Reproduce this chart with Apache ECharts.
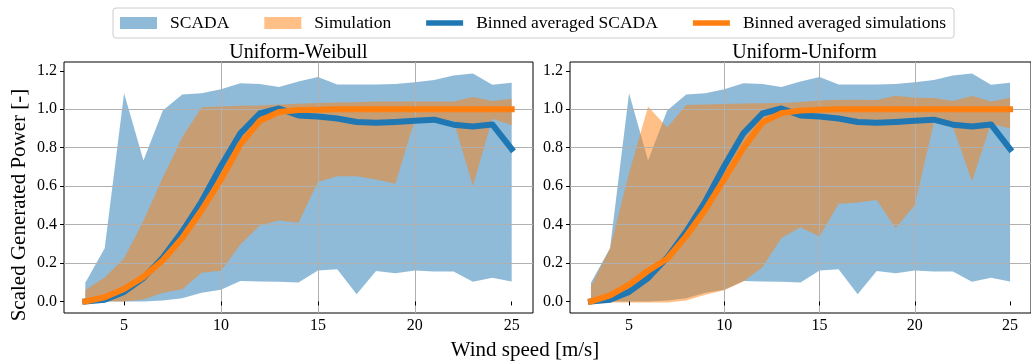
<!DOCTYPE html>
<html><head><meta charset="utf-8">
<script src="https://cdn.jsdelivr.net/npm/echarts@6/dist/echarts.min.js"></script>
<style>html,body{margin:0;padding:0;background:#fff}#c{width:1031px;height:363px}</style>
</head><body><div id="c"></div>
<script>
// ---------------- data ----------------
const windSpeed = [3,4,5,6,7,8,9,10,11,12,13,14,15,16,17,18,19,20,21,22,23,24,25];
const panelTitles = ['Uniform-Weibull', 'Uniform-Uniform'];
const xTickValues = [5, 10, 15, 20, 25];
const yTickValues = [0, 0.2, 0.4, 0.6, 0.8, 1.0, 1.2];

// SCADA envelope and binned average (same in both panels)
const scadaUpper  = [0.097,0.277,1.083,0.733,0.993,1.077,1.083,1.104,1.135,1.131,1.116,1.145,1.168,1.129,1.129,1.129,1.131,1.14,1.152,1.176,1.186,1.128,1.138];
const scadaLower  = [0,0,0,0,0.005,0.017,0.045,0.061,0.107,0.104,0.102,0.099,0.161,0.168,0.038,0.159,0.147,0.161,0.156,0.156,0.102,0.123,0.104];
const scadaBinned = [0.0,0.009,0.05,0.122,0.228,0.364,0.52,0.705,0.875,0.978,1.004,0.968,0.962,0.952,0.934,0.93,0.934,0.94,0.946,0.92,0.91,0.921,0.793];

// Uniform-Weibull simulations
const simWUpper  = [0.06,0.125,0.225,0.42,0.645,0.855,1.01,1.014,1.018,1.02,1.025,1.029,1.033,1.035,1.037,1.04,1.041,1.041,1.041,1.041,1.064,1.043,1.055];
const simWLower  = [0,0,0,0.01,0.045,0.064,0.15,0.16,0.296,0.395,0.421,0.41,0.622,0.651,0.651,0.634,0.613,0.945,0.945,0.94,0.601,0.951,0.917];
const simWBinned = [0.0,0.022,0.065,0.128,0.215,0.33,0.475,0.635,0.818,0.94,0.986,0.996,0.998,1,1,1,1,1,1,1,1,1,1];

// Uniform-Uniform simulations
const simUUpper  = [0.078,0.275,0.667,1.014,0.905,1.022,1.025,1.028,1.03,1.031,1.033,1.038,1.046,1.05,1.049,1.048,1.071,1.06,1.059,1.043,1.069,1.041,1.06];
const simULower  = [0,-0.005,-0.005,-0.005,-0.005,0.005,0.035,0.058,0.104,0.178,0.33,0.386,0.338,0.508,0.515,0.528,0.381,0.502,0.93,0.91,0.624,0.925,0.9];
const simUBinned = [0.0,0.032,0.087,0.16,0.222,0.34,0.477,0.637,0.798,0.932,0.98,0.993,0.997,1,1,1,1,1,1,1,1,1,1];

// ---------------- chart ----------------
const FONT = '"Liberation Serif", "DejaVu Serif", serif';
const C0 = '#1f77b4', C1 = '#ff7f0e';

function band(name, idx, lo, hi, color) {
  return {
    type: 'custom', name, xAxisIndex: idx, yAxisIndex: idx, z: 1, silent: true,
    data: windSpeed.map((x, i) => [x, lo[i], hi[i]]),
    encode: { x: 0, y: [1, 2] },
    itemStyle: { color },
    renderItem(params, api) {
      if (params.dataIndex !== 0) return null;
      const top = [], bot = [];
      for (let i = 0; i < windSpeed.length; i++) {
        top.push(api.coord([windSpeed[i], hi[i]]));
        bot.push(api.coord([windSpeed[i], lo[i]]));
      }
      return { type: 'polygon', shape: { points: top.concat(bot.reverse()) },
               style: { fill: color, opacity: 0.5 } };
    }
  };
}
function line(name, idx, vals, color, z) {
  return {
    type: 'line', name, xAxisIndex: idx, yAxisIndex: idx, z,
    data: windSpeed.map((x, i) => [x, vals[i]]),
    symbol: 'none', silent: true,
    itemStyle: { color },
    lineStyle: { width: 6, color, cap: 'square', join: 'round' }
  };
}
function xAxis(idx) {
  return {
    type: 'value', gridIndex: idx, min: 1.9, max: 26.1, splitNumber: 5, z: 3,
    axisLine: { show: false },
    axisTick: { show: true, length: 4, inside: false, customValues: xTickValues, lineStyle: { color: '#000', width: 1 } },
    axisLabel: { customValues: xTickValues, margin: 5, color: '#000', fontFamily: FONT, fontSize: 16,
      formatter: v => (Math.abs(v / 5 - Math.round(v / 5)) < 1e-6 ? String(Math.round(v)) : '') },
    splitLine: { show: true, showMinLine: false, showMaxLine: false, lineStyle: { color: '#b0b0b0', width: 1 } }
  };
}
function yAxis(idx) {
  return {
    type: 'value', gridIndex: idx, min: -0.06, max: 1.246, splitNumber: 6, z: 3,
    axisLine: { show: false },
    axisTick: { show: true, length: 4, inside: false, customValues: yTickValues, lineStyle: { color: '#000', width: 1 } },
    axisLabel: { customValues: yTickValues, margin: 7, color: '#000', fontFamily: FONT, fontSize: 16,
      formatter: v => (Math.abs(v * 5 - Math.round(v * 5)) < 1e-6 ? v.toFixed(1) : '') },
    splitLine: { show: true, showMinLine: false, showMaxLine: false, lineStyle: { color: '#b0b0b0', width: 1 } }
  };
}

const chart = echarts.init(document.getElementById('c'), null, { renderer: 'canvas' });
chart.setOption({
  animation: false,
  backgroundColor: '#fff',
  title: [
    { text: panelTitles[0], left: 298.5, top: 43, textAlign: 'center', padding: 0,
      textStyle: { fontFamily: FONT, fontSize: 20, fontWeight: 'normal', color: '#000' } },
    { text: panelTitles[1], left: 804.5, top: 43, textAlign: 'center', padding: 0,
      textStyle: { fontFamily: FONT, fontSize: 20, fontWeight: 'normal', color: '#000' } }
  ],
  legend: {
    left: 113, top: 8, padding: [6, 8, 6, 7], itemGap: 35, itemWidth: 37, itemHeight: 12,
    borderColor: '#cccccc', borderWidth: 1, borderRadius: 3, selectedMode: false,
    textStyle: { fontFamily: FONT, fontSize: 17.5, color: '#000', padding: [0, 0, 0, 8] },
    data: [
      { name: 'SCADA', icon: 'rect', itemStyle: { color: '#8fbbd9', borderWidth: 0 } },
      { name: 'Simulation', icon: 'rect', itemStyle: { color: '#ffbf86', borderWidth: 0 } },
      { name: 'Binned averaged SCADA', icon: 'path://M0,0H37V5.5H0Z', itemStyle: { color: C0, borderWidth: 0 } },
      { name: 'Binned averaged simulations', icon: 'path://M0,0H37V5.5H0Z', itemStyle: { color: C1, borderWidth: 0 } }
    ]
  },
  grid: [
    { left: 64, top: 62, width: 469, height: 251, show: true, borderColor: '#000', borderWidth: 1, backgroundColor: 'transparent' },
    { left: 570, top: 62, width: 469, height: 251, show: true, borderColor: '#000', borderWidth: 1, backgroundColor: 'transparent' }
  ],
  xAxis: [xAxis(0), xAxis(1)],
  yAxis: [yAxis(0), yAxis(1)],
  graphic: [
    { type: 'text', x: 525, y: 350, silent: true,
      style: { text: 'Wind speed [m/s]', fontFamily: FONT, fontSize: 21, fill: '#000', align: 'center', verticalAlign: 'middle' } },
    { type: 'text', x: 19, y: 205, rotation: Math.PI / 2, silent: true,
      style: { text: 'Scaled Generated Power [-]', fontFamily: FONT, fontSize: 21, fill: '#000', align: 'center', verticalAlign: 'middle' } }
  ],
  series: [
    band('SCADA', 0, scadaLower, scadaUpper, C0),
    band('Simulation', 0, simWLower, simWUpper, C1),
    line('Binned averaged SCADA', 0, scadaBinned, C0, 5),
    line('Binned averaged simulations', 0, simWBinned, C1, 6),
    band('SCADA', 1, scadaLower, scadaUpper, C0),
    band('Simulation', 1, simULower, simUUpper, C1),
    line('Binned averaged SCADA', 1, scadaBinned, C0, 5),
    line('Binned averaged simulations', 1, simUBinned, C1, 6)
  ]
});
</script>
</body></html>
